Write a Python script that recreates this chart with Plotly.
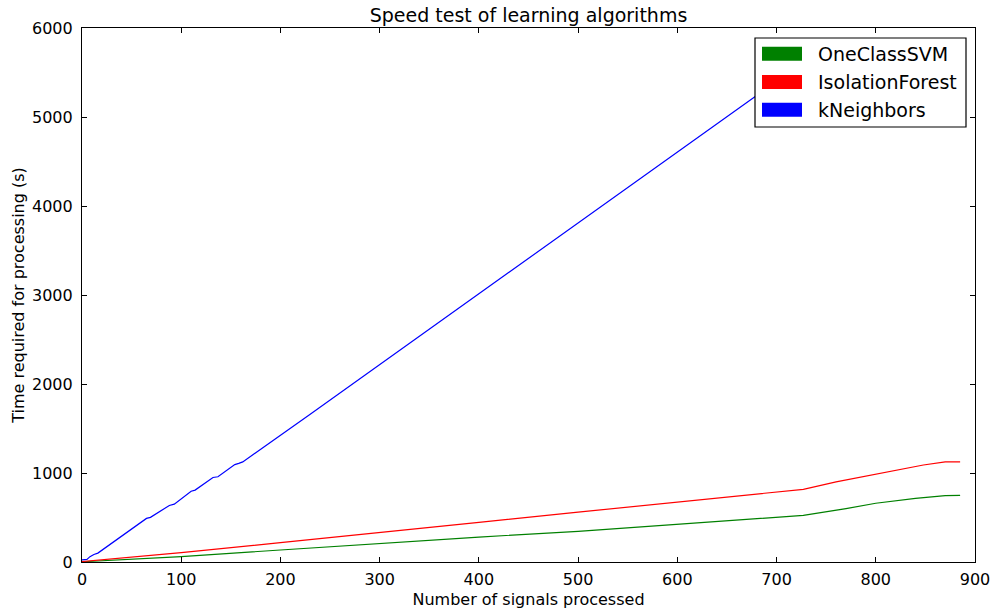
import plotly.graph_objects as go

# ---- data ----
series_names = ["OneClassSVM", "IsolationForest", "kNeighbors"]
series_colors = ["#008000", "#ff0000", "#0000ff"]

svm_x = [0, 100, 200, 300, 400, 500, 592, 680, 727, 770, 800, 840, 870, 885]
svm_y = [3, 60, 135, 210, 280, 345, 420, 485, 524, 600, 660, 715, 745, 748]

iso_x = [0, 100, 200, 300, 400, 500, 592, 680, 727, 760, 800, 848, 870, 885]
iso_y = [5, 105, 218, 329, 445, 560, 667, 765, 817, 900, 990, 1090, 1125, 1125]

knn_x = [0, 5, 8, 12, 16, 65, 69, 88, 93, 110, 114, 132, 137, 154, 158, 162,
         230, 400, 578, 680, 745]
knn_y = [25, 30, 60, 85, 100, 490, 502, 635, 650, 795, 808, 950, 958, 1095,
         1108, 1125, 1660, 3010, 4430, 5240, 5760]

x_ticks = [0, 100, 200, 300, 400, 500, 600, 700, 800, 900]
y_ticks = [0, 1000, 2000, 3000, 4000, 5000, 6000]

title_text = "Speed test of learning algorithms"
x_title = "Number of signals processed"
y_title = "Time required for processing (s)"

# ---- figure ----
W, H = 995, 612
ML, MR, MT, MB = 82, 20, 28, 50
FONT = "DejaVu Sans"

fig = go.Figure()
for xs, ys, name, col in zip([svm_x, iso_x, knn_x], [svm_y, iso_y, knn_y],
                             series_names, series_colors):
    fig.add_trace(go.Scatter(x=xs, y=ys, mode="lines", name=name,
                             line=dict(color=col, width=1.2),
                             showlegend=False, hoverinfo="skip"))

axis_common = dict(showline=True, linecolor="black", linewidth=1.2,
                   mirror="ticks", ticks="inside", ticklen=5, tickwidth=1,
                   tickcolor="black", showgrid=False, zeroline=False,
                   automargin=False,
                   tickfont=dict(family=FONT, size=16, color="black"))

fig.update_layout(
    width=W, height=H,
    margin=dict(l=ML, r=MR, t=MT, b=MB, autoexpand=False),
    paper_bgcolor="white", plot_bgcolor="white",
    font=dict(family=FONT, color="black"),
    title=dict(text=title_text, x=0.5 * (ML + (W - MR)) / W, xanchor="center",
               y=1 - 15 / H, yanchor="middle", automargin=False,
               font=dict(family=FONT, size=19, color="black")),
    xaxis=dict(range=[0, 900], tickvals=x_ticks, ticktext=[str(v) for v in x_ticks],
               title=dict(text=x_title, font=dict(family=FONT, size=16), standoff=5),
               ticklabelstandoff=3, **axis_common),
    yaxis=dict(range=[0, 6000], tickvals=y_ticks, ticktext=[str(v) for v in y_ticks],
               title=dict(text=y_title, font=dict(family=FONT, size=16), standoff=3),
               ticklabelstandoff=5, **axis_common),
    showlegend=False,
)

# ---- hand-drawn legend box (matplotlib-style) ----
plot_w = W - ML - MR
plot_h = H - MT - MB


def px2paper_x(px):
    return (px - ML) / plot_w


def px2paper_y(py):
    return (H - MB - py) / plot_h


box_l, box_r, box_t, box_b = 755, 966, 38, 127
fig.add_shape(type="rect", xref="paper", yref="paper",
              x0=px2paper_x(box_l), x1=px2paper_x(box_r),
              y0=px2paper_y(box_b), y1=px2paper_y(box_t),
              line=dict(color="black", width=1.2), fillcolor="white", layer="above")
row_centers = [53.7, 81.9, 109.7]
for name, col, cy in zip(series_names, series_colors, row_centers):
    fig.add_shape(type="rect", xref="paper", yref="paper",
                  x0=px2paper_x(762), x1=px2paper_x(802),
                  y0=px2paper_y(cy + 7), y1=px2paper_y(cy - 7),
                  line=dict(width=0), fillcolor=col, layer="above")
    fig.add_annotation(xref="paper", yref="paper", x=px2paper_x(816),
                       y=px2paper_y(cy), text=name, showarrow=False,
                       xanchor="left", yanchor="middle",
                       font=dict(family=FONT, size=19, color="black"))

fig.write_html("out.html")
